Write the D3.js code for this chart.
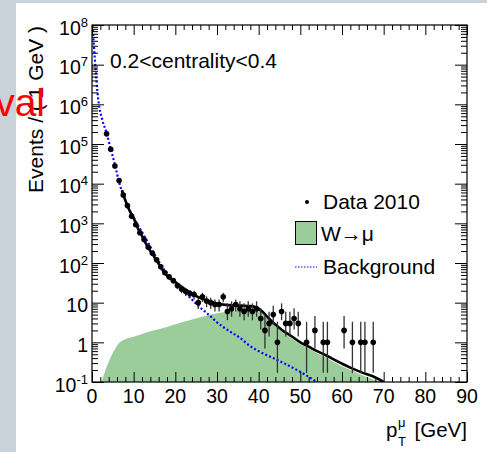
<!DOCTYPE html>
<html>
<head>
<meta charset="utf-8">
<script src="https://cdn.jsdelivr.net/npm/d3@7"></script>
<style>
body { margin: 0; background: #fff; }
svg { display: block; font-family: "Liberation Sans", Arial, sans-serif; }
</style>
</head>
<body>
<script>
// data points (bin centres, counts) and their error bars
var dataPt = [3.5, 4.5, 5.5, 6.5, 7.5, 8.5, 9.5, 10.5, 11.5, 12.5, 13.5, 14.5, 15.5, 16.5, 17.5, 18.5, 19.5,
    20.5, 21.5, 22.5, 23.5, 24.5, 25.5, 26.5, 27.5, 28.5, 29.5, 30.5, 31.5, 32.5, 33.5, 34.5, 35.5, 36.5, 37.5,
    38.5, 39.5, 40.5, 41.5, 42.5, 43.5, 44.5, 45.5, 46.5, 47.5, 48.5, 49.5, 51.5, 53.5, 55.5, 56.5, 60.5,
    62.5, 64.5, 65.5, 67.5];
var dataN = [180000, 74000, 28000, 12000, 5200, 2800, 1500, 920, 580, 390, 250, 175, 120, 80, 57, 45, 36,
    27, 22, 19, 17, 16, 10, 14, 11, 10, 9, 9, 14, 6, 7, 9, 7, 6, 7,
    6, 7, 4, 2, 3, 5, 1, 6, 3, 3, 4, 3, 1, 2, 1, 1, 2,
    1, 1, 1, 1];
var dataLo = [179600, 73730, 27830, 11890, 5128, 2747, 1461, 890, 556, 370, 234, 162, 109, 71, 49.5, 38, 30,
    21.8, 17.3, 14.7, 13, 12, 6.9, 10.3, 7.7, 6.9, 6, 6, 10.3, 3.6, 4.4, 6, 4.4, 3.6, 4.4,
    3.6, 4.4, 2.1, 0.7, 1.4, 2.8, 0.17, 3.6, 1.4, 1.4, 2.1, 1.4, 0.17, 0.7, 0.17, 0.17, 0.7,
    0.17, 0.17, 0.17, 0.17];
var dataHi = [180400, 74270, 28170, 12110, 5272, 2853, 1539, 950, 604, 410, 266, 188, 131, 89, 64.5, 52, 42,
    32.2, 26.7, 23.4, 21, 20, 13.3, 17.8, 14.4, 13.3, 12, 12, 17.8, 9.6, 10.8, 12, 10.8, 9.6, 10.8,
    9.6, 10.8, 7.2, 4.6, 5.9, 8.4, 3.3, 9.6, 5.9, 5.9, 7.2, 5.9, 3.3, 4.6, 3.3, 3.3, 4.6,
    3.3, 3.3, 3.3, 3.3];

// W -> mu template
var wPt = [2.3, 3.5, 5, 6.7, 8, 10, 14, 18, 22, 26, 30, 34, 37, 39, 40, 41, 42, 43, 44, 45, 46, 48, 50,
    52, 54, 56, 58, 60, 62, 65, 68, 69.5];
var wVal = [0.1, 0.24, 0.54, 1.0, 1.2, 1.38, 1.9, 2.45, 3.3, 4.3, 5.4, 6.3, 7.1, 7.4, 6.6, 5.3, 4.1, 3.2,
    2.55, 2.1, 1.7, 1.25, 0.9, 0.7, 0.53, 0.42, 0.32, 0.25, 0.2, 0.145, 0.11, 0.1];

// background
var bkgPt = [0, 0.25, 0.7, 1.5, 2.5, 3.5, 4.5, 5.5, 6.5, 8, 10, 12, 14, 16, 18, 20, 22, 24, 26, 28, 30,
    33, 35.5, 38, 40, 43.5, 46, 50, 54];
var bkgVal = [1.2e8, 6e7, 1.3e7, 1.3e6, 4e5, 1.9e5, 7.5e4, 3e4, 1.1e4, 3800, 1400, 600, 260, 110, 55, 32,
    20, 12, 7.5, 5, 3.2, 1.9, 1.3, 0.8, 0.6, 0.4, 0.3, 0.18, 0.1];

// total fit
var fitPt = [7.2, 8, 9, 10, 11, 12, 13, 14, 15, 16, 17, 18, 20, 22, 24, 26, 28, 30, 32, 34, 36, 38, 39.5,
    40, 41, 42, 43, 44, 45, 46, 48, 50, 52, 54, 56, 58, 60, 62, 65, 68, 70];
var fitVal = [6900, 3800, 2100, 1350, 750, 480, 300, 200, 140, 95, 65, 48, 33, 23, 17, 13, 11, 9.5, 8.8,
    8.5, 8.4, 8.2, 7.6, 7.0, 5.8, 4.5, 3.5, 2.8, 2.3, 1.9, 1.4, 1.0, 0.78, 0.6, 0.48, 0.37, 0.29, 0.23,
    0.17, 0.13, 0.1];

var xTickLabels = [0, 10, 20, 30, 40, 50, 60, 70, 80, 90];
var yTickLabels = [["10", "-1"], ["1", ""], ["10", ""], ["10", "2"], ["10", "3"], ["10", "4"],
    ["10", "5"], ["10", "6"], ["10", "7"], ["10", "8"]];

var W = 487, H = 452;
var pLeft = 92, pRight = 467, pTop = 25, pBottom = 382;

var svg = d3.select("body").append("svg")
    .attr("width", W)
    .attr("height", H);

// grey page strips behind the canvas
svg.append("rect").attr("width", W).attr("height", H).attr("fill", "#c9d3d9");
svg.append("rect").attr("x", 16).attr("y", 3).attr("width", W - 16).attr("height", H - 3).attr("fill", "#fff");

var x = d3.scaleLinear().domain([0, 90]).range([pLeft, pRight]);
var y = d3.scaleLog().domain([0.1, 1e8]).range([pBottom, pTop]);

svg.append("clipPath").attr("id", "plot")
    .append("rect")
    .attr("x", pLeft).attr("y", pTop)
    .attr("width", pRight - pLeft).attr("height", pBottom - pTop);

var g = svg.append("g").attr("clip-path", "url(#plot)");

var wData = wPt.map(function(d, i) { return [d, wVal[i]]; });
g.append("path")
    .datum(wData)
    .attr("fill", "#9bcd9b")
    .attr("d", d3.area()
        .x(function(d) { return x(d[0]); })
        .y0(y(0.1))
        .y1(function(d) { return y(d[1]); })
        .curve(d3.curveMonotoneX));

var bkgData = bkgPt.map(function(d, i) { return [d, bkgVal[i]]; });
g.append("path")
    .datum(bkgData)
    .attr("fill", "none")
    .attr("stroke", "#0000ff")
    .attr("stroke-width", 2.2)
    .attr("stroke-dasharray", "2,2.2")
    .attr("d", d3.line()
        .x(function(d) { return x(d[0]); })
        .y(function(d) { return y(d[1]); })
        .curve(d3.curveMonotoneX));

var fitData = fitPt.map(function(d, i) { return [d, fitVal[i]]; });
g.append("path")
    .datum(fitData)
    .attr("fill", "none")
    .attr("stroke", "#000")
    .attr("stroke-width", 2.6)
    .attr("d", d3.line()
        .x(function(d) { return x(d[0]); })
        .y(function(d) { return y(d[1]); })
        .curve(d3.curveMonotoneX));

// data points with error bars
var pts = dataPt.map(function(d, i) { return {pt: d, n: dataN[i], lo: dataLo[i], hi: dataHi[i]}; });
g.selectAll(".err")
    .data(pts)
    .enter().append("line")
    .attr("class", "err")
    .attr("x1", function(d) { return x(d.pt); })
    .attr("x2", function(d) { return x(d.pt); })
    .attr("y1", function(d) { return y(d.lo); })
    .attr("y2", function(d) { return y(d.hi); })
    .attr("stroke", "#333")
    .attr("stroke-width", 1.3);
g.selectAll(".dot")
    .data(pts)
    .enter().append("circle")
    .attr("class", "dot")
    .attr("cx", function(d) { return x(d.pt); })
    .attr("cy", function(d) { return y(d.n); })
    .attr("r", 2.8)
    .attr("fill", "#000");

// frame and ticks (ROOT style, inside, on all four sides)
var yMajor = y.ticks().filter(function(d) { return Math.abs(Math.log10(d) - Math.round(Math.log10(d))) < 1e-9; });
var yMinor = y.ticks().filter(function(d) { return yMajor.indexOf(d) < 0; });
var xMajor = d3.range(0, 91, 10);
var xMinor = d3.range(0, 91, 2).filter(function(d) { return d % 10 != 0; });

function tickAxis(axis, values, size, tx, ty) {
    svg.append("g")
        .attr("transform", "translate(" + tx + "," + ty + ")")
        .call(axis.tickValues(values).tickSize(size).tickFormat(""))
        .call(function(s) { s.select(".domain").remove(); })
        .selectAll("line").attr("stroke", "#000");
}
tickAxis(d3.axisRight(y), yMajor, 12, pLeft, 0);
tickAxis(d3.axisRight(y), yMinor, 6, pLeft, 0);
tickAxis(d3.axisLeft(y), yMajor, 12, pRight, 0);
tickAxis(d3.axisLeft(y), yMinor, 6, pRight, 0);
tickAxis(d3.axisTop(x), xMajor, 10, 0, pBottom);
tickAxis(d3.axisTop(x), xMinor, 5, 0, pBottom);
tickAxis(d3.axisBottom(x), xMajor, 10, 0, pTop);
tickAxis(d3.axisBottom(x), xMinor, 5, 0, pTop);

svg.append("rect")
    .attr("x", pLeft).attr("y", pTop)
    .attr("width", pRight - pLeft).attr("height", pBottom - pTop)
    .attr("fill", "none")
    .attr("stroke", "#000")
    .attr("stroke-width", 1.2);

// tick labels
svg.selectAll(".xlab")
    .data(xTickLabels)
    .enter().append("text")
    .attr("class", "xlab")
    .attr("x", function(d) { return x(d); })
    .attr("y", pBottom + 21)
    .attr("text-anchor", "middle")
    .attr("font-size", 19.5)
    .text(function(d) { return d; });

var ylab = svg.selectAll(".ylab")
    .data(yTickLabels)
    .enter().append("text")
    .attr("class", "ylab")
    .attr("x", pLeft - 4)
    .attr("y", function(d, i) { return y(Math.pow(10, i - 1)) + 9.5; })
    .attr("text-anchor", "end")
    .attr("font-size", 19.5);
ylab.append("tspan").text(function(d) { return d[0]; });
ylab.append("tspan")
    .attr("dy", -8)
    .attr("font-size", 13)
    .text(function(d) { return d[1]; });

// axis titles
svg.append("text")
    .attr("transform", "translate(43," + (pTop + 1) + ") rotate(-90)")
    .attr("text-anchor", "end")
    .attr("font-size", 21)
    .text("Events / ( 1 GeV )");

svg.append("text").attr("x", 386).attr("y", 437).attr("font-size", 20.5).text("p");
svg.append("text").attr("x", 398).attr("y", 427).attr("font-size", 13).text("\u03bc");
svg.append("text").attr("x", 398).attr("y", 446).attr("font-size", 13).text("T");
svg.append("text").attr("x", pRight).attr("y", 437).attr("text-anchor", "end").attr("font-size", 20.5).text("[GeV]");

svg.append("text")
    .attr("x", 110).attr("y", 68)
    .attr("font-size", 21)
    .text("0.2<centrality<0.4");

// legend
var lg = svg.append("g").attr("font-size", 21);
lg.append("circle").attr("cx", 307).attr("cy", 202).attr("r", 2).attr("fill", "#000");
lg.append("text").attr("x", 323).attr("y", 209).text("Data 2010");
lg.append("rect").attr("x", 295.5).attr("y", 221.5).attr("width", 21).attr("height", 23)
    .attr("fill", "#9bcd9b").attr("stroke", "#000").attr("stroke-width", 1);
lg.append("text").attr("x", 321).attr("y", 241).text("W\u2192\u03bc");
lg.append("line").attr("x1", 295).attr("x2", 317).attr("y1", 267).attr("y2", 267)
    .attr("stroke", "#0000ff").attr("stroke-width", 1.2).attr("stroke-dasharray", "1.5,1.5");
lg.append("text").attr("x", 323).attr("y", 274).text("Background");

// stray overlay text from the slide
svg.append("text")
    .attr("x", 45).attr("y", 116)
    .attr("text-anchor", "end")
    .attr("font-size", 39)
    .attr("fill", "#ff0000")
    .text("val");
</script>
</body>
</html>
